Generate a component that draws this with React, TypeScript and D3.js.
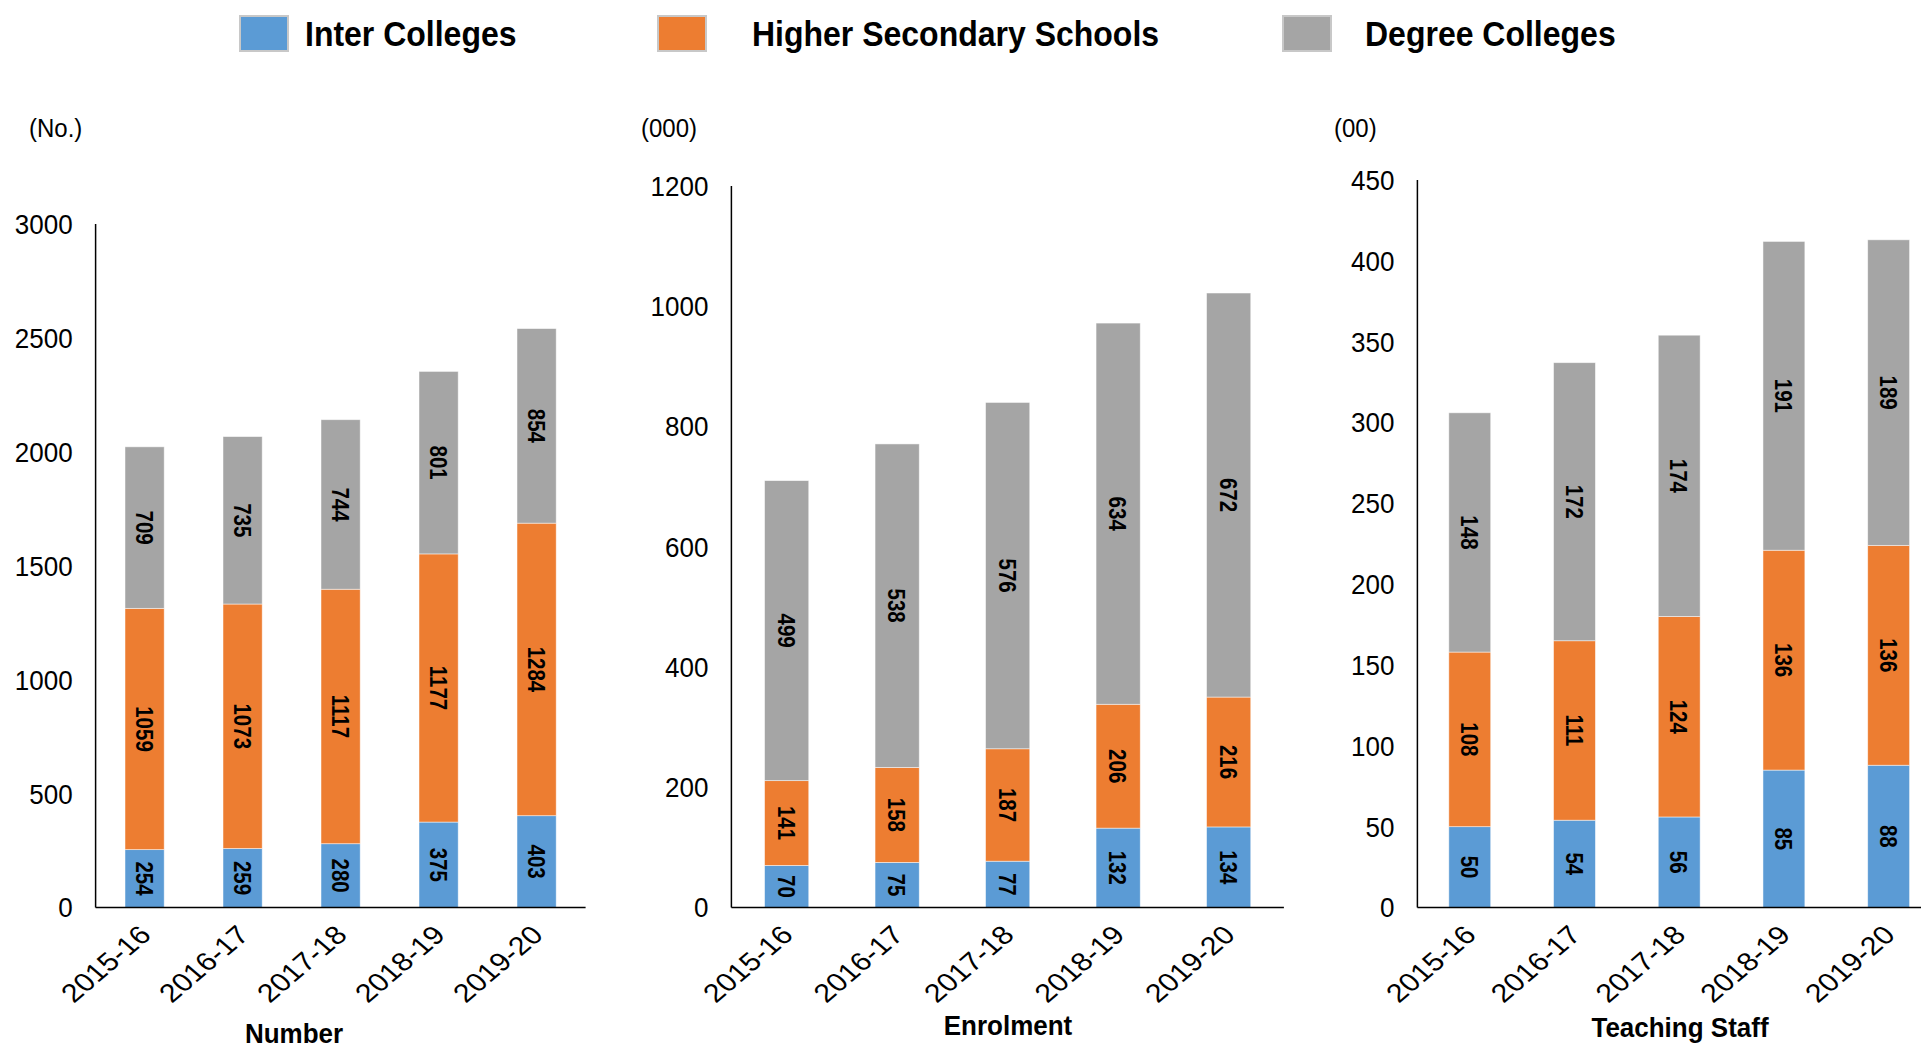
import React from "react";
import * as d3 from "d3";

const years = ["2015-16", "2016-17", "2017-18", "2018-19", "2019-20"];
const seriesNames = ["Inter Colleges", "Higher Secondary Schools", "Degree Colleges"];
const seriesColors = ["#5B9BD5", "#ED7D31", "#A5A5A5"];

const numberInter = [254, 259, 280, 375, 403];
const numberHSS = [1059, 1073, 1117, 1177, 1284];
const numberDegree = [709, 735, 744, 801, 854];
const numberTicks = [0, 500, 1000, 1500, 2000, 2500, 3000];

const enrolInter = [70, 75, 77, 132, 134];
const enrolHSS = [141, 158, 187, 206, 216];
const enrolDegree = [499, 538, 576, 634, 672];
const enrolTicks = [0, 200, 400, 600, 800, 1000, 1200];

const staffInter = [50, 54, 56, 85, 88];
const staffHSS = [108, 111, 124, 136, 136];
const staffDegree = [148, 172, 174, 191, 189];
const staffTicks = [0, 50, 100, 150, 200, 250, 300, 350, 400, 450];

const FONT = "'Liberation Sans', Arial, Helvetica, sans-serif";
const BASE = 907.5;

const panels = [
  { title: "Number", unit: "(No.)", series: [numberInter, numberHSS, numberDegree], ticks: numberTicks, x0: 95.6, x1: 585.6, yTop: 224, unitX: 29, titleX: 294, titleY: 1043 },
  { title: "Enrolment", unit: "(000)", series: [enrolInter, enrolHSS, enrolDegree], ticks: enrolTicks, x0: 731.4, x1: 1283.9, yTop: 186, unitX: 641, titleX: 1008, titleY: 1035 },
  { title: "Teaching Staff", unit: "(00)", series: [staffInter, staffHSS, staffDegree], ticks: staffTicks, x0: 1417.4, x1: 1941, yTop: 180, unitX: 1334, titleX: 1680, titleY: 1037 },
];

function Panel({ p }: { p: any }) {
  const x = d3.scaleBand<string>().domain(years).range([p.x0, p.x1]).paddingInner(0.6).paddingOuter(0.3);
  const maxT = p.ticks[p.ticks.length - 1];
  const y = d3.scaleLinear().domain([0, maxT]).range([BASE, p.yTop]);
  const rows = years.map((yr, i) => ({ year: yr, s0: p.series[0][i], s1: p.series[1][i], s2: p.series[2][i] }));
  const stacked = d3.stack<any>().keys(["s0", "s1", "s2"])(rows);
  return (
    <g>
      {stacked.map((layer, si) => (
        <g key={si}>
          {layer.map((d: any, i: number) => {
            const yTop = y(d[1]);
            const yBot = y(d[0]);
            const cx = (x(years[i]) as number) + x.bandwidth() / 2;
            const cy = (yTop + yBot) / 2;
            return (
              <g key={i}>
                <rect x={x(years[i])} y={yTop} width={x.bandwidth()} height={yBot - yTop} fill={seriesColors[si]} stroke="#ffffff" strokeWidth={0.8} strokeOpacity={0.6} />
                <text transform={`translate(${cx},${cy}) rotate(90) scale(1,1.18)`} textAnchor="middle" dy="0.36em" fontFamily={FONT} fontWeight="bold" fontSize={20.5} fill="#000">
                  {d[1] - d[0]}
                </text>
              </g>
            );
          })}
        </g>
      ))}
      <line x1={p.x0} x2={p.x0} y1={p.yTop} y2={BASE} stroke="#000" strokeWidth={1.5} />
      <line x1={p.x0} x2={p.x1} y1={BASE} y2={BASE} stroke="#000" strokeWidth={1.5} />
      {p.ticks.map((t: number) => (
        <text key={t} transform={`translate(${p.x0 - 23},${y(t)}) scale(1,1.06)`} dy="0.36em" textAnchor="end" fontFamily={FONT} fontSize={26} fill="#000">
          {t}
        </text>
      ))}
      {years.map((yr) => {
        const cx = (x(yr) as number) + x.bandwidth() / 2;
        return (
          <text key={yr} transform={`translate(${cx + 8},${BASE + 29}) scale(1.17,1) rotate(-45)`} textAnchor="end" fontFamily={FONT} fontSize={26} fill="#000">
            {yr}
          </text>
        );
      })}
      <text transform={`translate(${p.unitX},137) scale(1,1.06)`} fontFamily={FONT} fontSize={24} fill="#000">{p.unit}</text>
      <text transform={`translate(${p.titleX},${p.titleY}) scale(1,1.08)`} textAnchor="middle" fontFamily={FONT} fontWeight="bold" fontSize={26} fill="#000">{p.title}</text>
    </g>
  );
}

const legendX = [240, 658, 1283];
const legendTextX = [305, 752, 1365];

export default function App() {
  return (
    <div style={{ position: "fixed", left: 0, top: 0, width: 1921, height: 1049, background: "#fff" }}>
      <svg width={1921} height={1049} viewBox="0 0 1921 1049" style={{ display: "block" }}>
        <rect width={1921} height={1049} fill="#fff" />
        {seriesNames.map((n, i) => (
          <g key={n}>
            <rect x={legendX[i]} y={16} width={48} height={35} fill={seriesColors[i]} stroke="#c8c8c8" strokeWidth={2} />
            <text transform={`translate(${legendTextX[i]},46) scale(1,1.1)`} fontFamily={FONT} fontWeight="bold" fontSize={32} fill="#000">{n}</text>
          </g>
        ))}
        {panels.map((p) => (
          <Panel key={p.title} p={p} />
        ))}
      </svg>
    </div>
  );
}
